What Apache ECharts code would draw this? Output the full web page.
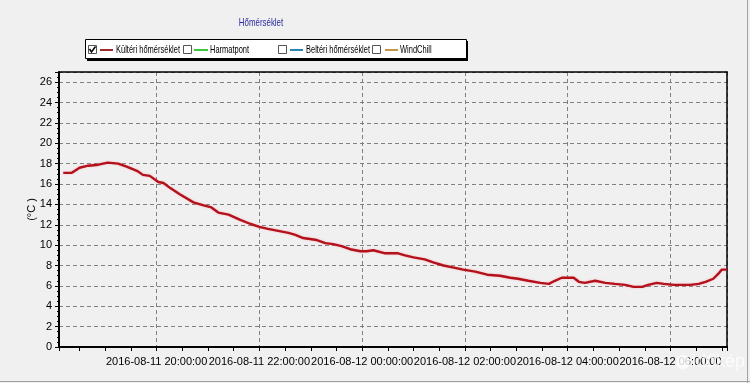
<!DOCTYPE html>
<html>
<head>
<meta charset="utf-8">
<script src="https://cdn.jsdelivr.net/npm/echarts@6/dist/echarts.min.js"></script>
<style>
html,body{margin:0;padding:0;background:#f0f0f0;}
#chart{width:750px;height:383px;}
</style>
</head>
<body>
<div id="chart"></div>
<script>
// ---- data ----
var titleText = 'Hőmérséklet';
var seriesNames = ['Kültéri hőmérséklet', 'Harmatpont', 'Beltéri hőmérséklet', 'WindChill'];
var legendColors = ['#9e2a2a', '#3cc83c', '#2a86b8', '#c8964a'];
var yAxisName = '(°C )';
var xMin = '2016-08-11 18:06';
var xMax = '2016-08-12 07:06';
var times = [
 '2016-08-11 18:11','2016-08-11 18:21','2016-08-11 18:30','2016-08-11 18:40','2016-08-11 18:52',
 '2016-08-11 19:03','2016-08-11 19:15','2016-08-11 19:25','2016-08-11 19:37','2016-08-11 19:44',
 '2016-08-11 19:52','2016-08-11 20:02','2016-08-11 20:08','2016-08-11 20:16','2016-08-11 20:27',
 '2016-08-11 20:43','2016-08-11 20:55','2016-08-11 21:04','2016-08-11 21:12','2016-08-11 21:24',
 '2016-08-11 21:37','2016-08-11 21:49','2016-08-11 22:00','2016-08-11 22:10','2016-08-11 22:22',
 '2016-08-11 22:34','2016-08-11 22:42','2016-08-11 22:51','2016-08-11 23:07','2016-08-11 23:17',
 '2016-08-11 23:26','2016-08-11 23:36','2016-08-11 23:46','2016-08-11 23:58','2016-08-12 00:05',
 '2016-08-12 00:13','2016-08-12 00:27','2016-08-12 00:42','2016-08-12 00:50','2016-08-12 01:00',
 '2016-08-12 01:13','2016-08-12 01:23','2016-08-12 01:35','2016-08-12 01:47','2016-08-12 01:58',
 '2016-08-12 02:12','2016-08-12 02:26','2016-08-12 02:41','2016-08-12 02:53','2016-08-12 03:02',
 '2016-08-12 03:14','2016-08-12 03:28','2016-08-12 03:38','2016-08-12 03:45','2016-08-12 03:53',
 '2016-08-12 04:07','2016-08-12 04:13','2016-08-12 04:20','2016-08-12 04:32','2016-08-12 04:44',
 '2016-08-12 04:55','2016-08-12 05:07','2016-08-12 05:17','2016-08-12 05:27','2016-08-12 05:34',
 '2016-08-12 05:44','2016-08-12 05:52','2016-08-12 06:04','2016-08-12 06:23','2016-08-12 06:33',
 '2016-08-12 06:41','2016-08-12 06:50','2016-08-12 06:56','2016-08-12 07:00','2016-08-12 07:06'
];
var outdoorTemp = [
 17.1,17.1,17.6,17.8,17.9,
 18.1,18.0,17.7,17.3,16.9,
 16.8,16.2,16.1,15.6,15.0,
 14.2,13.9,13.7,13.2,13.0,
 12.5,12.1,11.8,11.6,11.4,
 11.2,11.0,10.7,10.5,10.2,
 10.1,9.9,9.6,9.4,9.4,
 9.5,9.2,9.2,9.0,8.8,
 8.6,8.3,8.0,7.8,7.6,
 7.4,7.1,7.0,6.8,6.7,
 6.5,6.3,6.2,6.5,6.8,
 6.8,6.4,6.3,6.5,6.3,
 6.2,6.1,5.9,5.9,6.1,
 6.3,6.2,6.1,6.1,6.2,
 6.4,6.7,7.2,7.6,7.6
];
var yMin = 0, yMax = 27, yInterval = 2;

// ---- chart ----
var FONT = '"Liberation Sans", Arial, sans-serif';
var chart = echarts.init(document.getElementById('chart'), null, {renderer: 'canvas'});
var pts = times.map(function (t, i) { return [t, outdoorTemp[i]]; });
var HOUR = 3600 * 1000;

var legendGraphics = [];
legendGraphics.push({type: 'rect', shape: {x: 87, y: 41, width: 381, height: 20}, style: {fill: '#000'}, z: 100});
legendGraphics.push({type: 'rect', shape: {x: 85.5, y: 39.5, width: 381, height: 19}, style: {fill: '#fff', stroke: '#000', lineWidth: 1}, z: 101});
var boxX = [88, 183, 278, 372];
var lineX = [[100, 113], [194, 208], [290, 303], [385, 398]];
var textX = [116, 210, 306, 400];
for (var i = 0; i < 4; i++) {
  legendGraphics.push({type: 'rect', shape: {x: boxX[i] + 0.5, y: 45.5, width: 8, height: 8}, style: {fill: '#fff', stroke: '#555', lineWidth: 1}, z: 102});
  legendGraphics.push({type: 'line', shape: {x1: lineX[i][0], y1: 50, x2: lineX[i][1], y2: 50}, style: {stroke: legendColors[i], lineWidth: 2}, z: 102});
  legendGraphics.push({type: 'text', x: textX[i], y: 50, scaleX: 0.68, style: {text: seriesNames[i], font: '11px ' + FONT, fill: '#000', textAlign: 'left', textVerticalAlign: 'middle', verticalAlign: 'middle'}, z: 102});
}
legendGraphics.push({type: 'polyline', shape: {points: [[89.5, 49], [91.5, 52], [95.5, 46.5]]}, style: {stroke: '#000', lineWidth: 1.5, fill: null}, z: 103});

var option = {
  backgroundColor: '#f0f0f0',
  animation: false,
  grid: {left: 59, right: 23, top: 72, bottom: 36, containLabel: false, outerBoundsMode: 'none'},
  xAxis: [{
    type: 'time',
    min: xMin, max: xMax,
    minInterval: 2.5 * HOUR, maxInterval: 2.5 * HOUR,
    axisLine: {show: true, lineStyle: {color: '#000', width: 2}},
    axisTick: {show: true, length: 4, lineStyle: {color: '#000'}},
    axisLabel: {
      show: true, color: '#000', fontSize: 11, fontFamily: FONT, margin: 9,
      showMinLabel: false, showMaxLabel: false, hideOverlap: false,
      formatter: '{yyyy}-{MM}-{dd} {HH}:{mm}:{ss}'
    },
    splitLine: {show: true, lineStyle: {color: '#808080', type: [4, 3], width: 1}}
  }, {
    type: 'time',
    position: 'bottom',
    min: xMin, max: xMax,
    minInterval: 35 * 60 * 1000, maxInterval: 35 * 60 * 1000,
    axisLine: {show: false},
    axisTick: {show: true, length: 4, lineStyle: {color: '#000'}},
    axisLabel: {show: false},
    splitLine: {show: false}
  }, {
    type: 'time',
    position: 'top',
    min: xMin, max: xMax,
    axisLine: {show: true, lineStyle: {color: '#000', width: 1.5}},
    axisTick: {show: false}, axisLabel: {show: false}, splitLine: {show: false}
  }],
  yAxis: [{
    type: 'value',
    min: yMin, max: yMax, interval: yInterval,
    name: yAxisName, nameLocation: 'middle', nameGap: 22, nameRotate: 90, nameMoveOverlap: false,
    nameTextStyle: {color: '#000', fontSize: 11, fontFamily: FONT},
    axisLine: {show: true, lineStyle: {color: '#000', width: 2}},
    axisTick: {show: true, length: 4, lineStyle: {color: '#000'}},
    minorTick: {show: true, splitNumber: 4, length: 2, lineStyle: {color: '#000'}},
    axisLabel: {color: '#000', fontSize: 11, fontFamily: FONT, margin: 7, showMaxLabel: false},
    splitLine: {show: true, lineStyle: {color: '#808080', type: [4, 3], width: 1}}
  }, {
    type: 'value',
    position: 'right',
    min: yMin, max: yMax,
    axisLine: {show: true, lineStyle: {color: '#000', width: 1.5}},
    axisTick: {show: false}, axisLabel: {show: false}, splitLine: {show: false}
  }],
  series: [{
    name: seriesNames[0],
    type: 'line',
    data: pts,
    showSymbol: false,
    symbol: 'none',
    lineStyle: {color: '#b3121c', width: 2.4, shadowColor: 'rgba(255,140,150,0.6)', shadowBlur: 2},
    z: 5
  }],
  graphic: [
    {type: 'text', x: 261, y: 23, scaleX: 0.72, style: {text: titleText, font: '11px ' + FONT, fill: '#2a2aa0', textAlign: 'center', textVerticalAlign: 'middle', verticalAlign: 'middle', align: 'center'}, z: 100},
    {type: 'line', shape: {x1: 0, y1: 381.5, x2: 750, y2: 381.5}, style: {stroke: '#a0a0a0', lineWidth: 1}},
    {type: 'line', shape: {x1: 747.5, y1: 0, x2: 747.5, y2: 383}, style: {stroke: '#a0a0a0', lineWidth: 1}},
    {type: 'circle', shape: {cx: 683, cy: 362, r: 7}, style: {fill: 'rgba(255,255,255,0.8)'}, z: 200},
    {type: 'text', x: 692, y: 362, style: {text: 'időkép', font: '18px ' + FONT, fill: 'rgba(255,255,255,0.8)', textVerticalAlign: 'middle', verticalAlign: 'middle'}, z: 200}
  ].concat(legendGraphics)
};
chart.setOption(option);
</script>
</body>
</html>
